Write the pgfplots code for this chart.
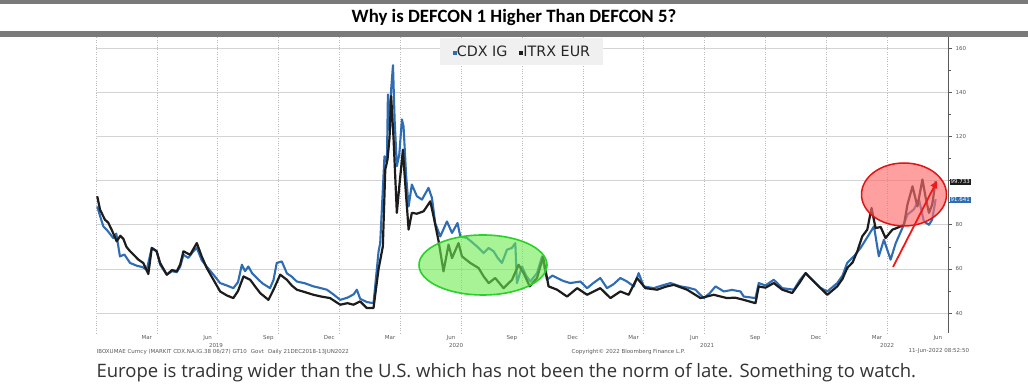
\documentclass[border=0pt]{standalone}
\usepackage{pgfplots}
\pgfplotsset{compat=1.18}
\usepackage{fontspec}
\setmainfont{DejaVu Sans}
\newfontfamily\titlefont{Carlito}
\newfontfamily\capfont{Open Sans}
\usetikzlibrary{arrows.meta}
\definecolor{cdx}{HTML}{2E6DB4}
\definecolor{itrx}{HTML}{1C1C1C}
\definecolor{gridc}{HTML}{D4D4D4}
\definecolor{tickc}{HTML}{5A5A5A}
\definecolor{barc}{HTML}{7A7A7A}
\pgfplotstableread[row sep=\\]{
x y\\
0.06 88.3\\ 0.20 84.0\\ 0.36 79.3\\ 0.55 77.5\\ 0.85 74.0\\ 1.00 76.0\\ 1.18 65.7\\ 1.40 66.5\\ 1.68 62.7\\ 2.00 61.5\\ 2.30 60.8\\ 2.50 59.6\\ 2.75 69.5\\ 2.99 68.0\\
3.16 62.0\\ 3.30 60.0\\ 3.49 57.4\\ 3.75 59.0\\ 3.98 58.5\\ 4.15 61.0\\ 4.31 66.4\\ 4.55 65.0\\ 4.80 68.0\\ 4.97 69.5\\ 5.21 64.0\\ 5.46 61.0\\ 5.79 57.4\\
6.12 53.6\\ 6.45 52.5\\ 6.77 51.3\\ 7.00 54.0\\ 7.19 61.9\\ 7.35 59.0\\ 7.51 61.1\\ 7.70 58.0\\ 7.93 55.9\\ 8.20 53.5\\ 8.58 51.3\\ 8.75 55.0\\ 8.91 62.7\\ 9.16 63.4\\
9.41 58.0\\ 9.65 56.5\\ 9.90 54.3\\ 10.30 53.5\\ 10.72 52.1\\ 11.00 51.5\\ 11.38 50.6\\ 11.70 48.5\\ 12.04 46.0\\ 12.40 47.0\\ 12.70 48.5\\ 12.86 50.6\\ 13.02 46.5\\ 13.35 45.0\\ 13.68 44.5\\
13.93 68.0\\ 14.01 71.7\\ 14.22 111.0\\ 14.34 108.0\\ 14.39 139.0\\ 14.47 123.0\\ 14.55 141.3\\ 14.64 152.2\\
14.72 127.7\\ 14.83 106.5\\ 14.95 111.8\\ 15.08 127.7\\ 15.16 124.6\\ 15.29 102.0\\ 15.41 88.3\\ 15.57 98.2\\
15.82 92.9\\ 16.07 91.4\\ 16.39 96.7\\ 16.56 92.2\\ 16.72 80.8\\ 16.97 74.7\\ 17.30 81.5\\ 17.55 76.3\\
17.82 80.8\\ 17.96 74.7\\ 18.29 74.0\\ 18.55 72.0\\ 18.78 70.2\\ 19.11 67.2\\ 19.35 69.5\\ 19.60 68.0\\ 19.80 65.0\\ 20.01 62.7\\ 20.26 68.7\\
20.50 69.5\\ 20.67 71.7\\ 20.75 53.6\\ 21.00 61.1\\ 21.20 57.0\\ 21.41 54.3\\ 21.74 58.1\\ 21.99 65.7\\ 22.23 55.1\\ 22.50 57.0\\ 22.73 55.9\\
23.05 54.5\\ 23.38 53.6\\ 23.88 54.3\\ 24.21 51.3\\ 24.50 53.5\\ 24.86 55.9\\ 25.19 51.3\\ 25.50 53.0\\ 25.85 55.9\\ 26.18 54.3\\ 26.51 52.1\\
26.75 58.1\\ 27.00 52.1\\ 27.49 51.3\\ 27.90 52.5\\ 28.32 53.6\\ 28.81 52.1\\ 29.20 51.5\\ 29.55 50.6\\ 29.96 46.8\\ 30.25 49.0\\ 30.54 52.1\\
30.95 49.8\\ 31.35 50.5\\ 31.77 49.8\\ 31.93 47.5\\ 32.51 46.8\\ 32.67 53.6\\ 33.00 52.5\\ 33.41 55.1\\ 33.83 51.3\\ 34.40 50.6\\
34.70 55.0\\ 34.98 58.1\\ 35.39 54.3\\ 35.70 51.5\\ 36.05 49.8\\ 36.54 53.6\\ 36.80 57.0\\ 37.03 62.7\\ 37.36 65.7\\ 37.69 69.5\\ 38.10 75.5\\
38.35 79.3\\ 38.59 65.7\\ 38.84 73.2\\ 39.17 64.2\\ 39.42 71.6\\ 39.75 78.5\\ 40.00 84.6\\ 40.32 87.0\\
40.57 91.4\\ 40.81 81.5\\ 41.06 80.0\\ 41.22 82.3\\ 41.39 91.6\\
}\cdxdata
\pgfplotstableread[row sep=\\]{
x y\\
0.06 92.9\\ 0.20 86.8\\ 0.44 82.3\\ 0.60 81.0\\ 0.77 77.8\\ 1.02 72.5\\ 1.20 75.0\\ 1.35 73.6\\ 1.50 70.0\\ 1.68 68.0\\ 1.90 66.0\\ 2.09 64.2\\
2.33 62.7\\ 2.58 57.7\\ 2.75 69.5\\ 2.99 68.0\\ 3.16 62.7\\ 3.49 57.4\\ 3.75 59.5\\ 3.98 58.9\\ 4.15 62.0\\ 4.31 68.0\\
4.64 66.4\\ 4.80 69.0\\ 4.97 71.7\\ 5.21 65.7\\ 5.46 60.4\\ 5.79 55.1\\ 6.12 49.8\\ 6.45 48.0\\ 6.77 46.8\\ 7.00 50.0\\ 7.27 56.6\\
7.60 55.1\\ 7.85 52.0\\ 8.09 49.1\\ 8.50 46.0\\ 8.75 50.6\\ 9.08 57.4\\ 9.41 55.1\\ 9.65 52.5\\ 9.90 50.6\\ 10.30 49.5\\ 10.72 48.3\\
11.10 47.5\\ 11.54 46.8\\ 12.04 43.8\\ 12.40 44.5\\ 12.69 43.8\\ 13.02 45.3\\ 13.35 42.3\\ 13.68 42.3\\ 13.93 60.0\\ 14.14 70.2\\
14.26 105.0\\ 14.37 109.5\\ 14.47 119.4\\ 14.55 138.2\\ 14.67 118.6\\ 14.83 85.4\\ 14.96 98.2\\ 15.13 114.0\\
15.24 99.0\\ 15.41 77.8\\ 15.57 85.4\\ 15.82 85.0\\ 16.15 86.1\\ 16.48 90.6\\ 16.64 83.8\\ 16.89 72.5\\
17.13 58.9\\ 17.38 71.0\\ 17.55 64.9\\ 17.87 71.7\\ 18.04 65.7\\ 18.45 62.7\\ 18.86 60.4\\ 19.11 56.6\\
19.36 53.6\\ 19.68 55.9\\ 20.09 51.3\\ 20.51 55.1\\ 20.83 61.9\\ 21.08 58.1\\ 21.38 52.1\\ 21.74 55.9\\
22.04 65.4\\ 22.31 52.1\\ 22.73 50.6\\ 23.22 47.5\\ 23.72 51.3\\ 24.21 48.3\\ 24.86 51.3\\ 25.36 46.8\\
25.85 49.8\\ 26.26 48.3\\ 26.67 55.9\\ 27.08 51.3\\ 27.66 50.6\\ 28.10 52.0\\ 28.48 52.8\\ 29.14 50.6\\ 29.80 46.8\\
30.45 48.3\\ 31.11 46.8\\ 31.50 47.0\\ 31.93 46.0\\ 32.51 44.5\\ 32.67 52.1\\ 33.00 51.5\\ 33.41 53.6\\ 33.83 50.6\\ 34.32 49.1\\
34.70 54.0\\ 34.98 58.1\\ 35.55 52.8\\ 36.05 48.3\\ 36.54 52.1\\ 36.80 55.5\\ 37.03 60.4\\ 37.30 63.0\\ 37.53 68.0\\ 37.77 74.7\\ 38.02 77.8\\
38.23 87.6\\ 38.43 78.5\\ 38.68 79.0\\ 38.92 74.0\\ 39.26 77.8\\ 39.47 78.5\\ 39.83 80.0\\ 40.00 89.1\\
40.25 97.4\\ 40.49 88.3\\ 40.74 100.5\\ 40.90 92.2\\ 41.06 85.4\\ 41.22 89.1\\ 41.39 99.7\\
}\itrxdata
\begin{document}
\begin{tikzpicture}[x=1pt,y=1pt]
\path[use as bounding box] (0,0) rectangle (1028,387);
\fill[white] (0,0) rectangle (1028,387);
\fill[barc] (0,383) rectangle (1028,387);
\fill[barc] (0,350) rectangle (1028,356);
\node[font=\titlefont\bfseries\fontsize{18.8}{21}\selectfont] at (514,369.5) {Why is DEFCON 1 Higher Than DEFCON 5?};
\begin{axis}[
  at={(96pt,54pt)}, anchor=south west, scale only axis,
  width=852pt, height=296pt,
  xmin=0, xmax=42, ymin=31, ymax=165,
  axis y line*=right, axis x line*=bottom,
  x axis line style={draw=none},
  y axis line style={draw=tickc, line width=0.8pt},
  /pgf/number format/assume math mode=true,
  ytick={40,60,80,120,140,160}, minor ytick={50,70,...,150},
  tick align=outside, major tick length=4pt, minor tick length=3pt,
  y tick style={draw=tickc, line width=0.6pt},
  extra y ticks={100}, extra y tick labels={},
  xtick={2.5,5.5,...,41.5},
  xticklabels={Mar,Jun,Sep,Dec,Mar,Jun,Sep,Dec,Mar,Jun,Sep,Dec,Mar,Jun},
  x tick style={draw=none},
  minor xtick={0,3,...,39},
  ymajorgrids, xminorgrids,
  major grid style={draw=gridc, line width=0.7pt},
  minor grid style={draw=gray!55, dotted, line width=0.7pt},
  tick label style={font=\fontsize{5.5}{6}\selectfont, text=tickc},
  xticklabel style={yshift=2.5pt, inner sep=1pt},
  clip=true,
]
\addplot[cdx, line width=2.1pt, line join=round] table[x=x,y=y] {\cdxdata};
\addplot[itrx, line width=2.2pt, line join=round] table[x=x,y=y] {\itrxdata};
\end{axis}
% legend
\fill[gray!12] (440,322) rectangle (603,349);
\node[font=\fontsize{14.3}{16}\selectfont, text=black!85] at (521.5,335.5)
  {\textcolor{cdx}{\rule[2pt]{4pt}{4pt}}CDX IG\hspace{12pt}\textcolor{itrx}{\rule[2pt]{4pt}{4pt}}ITRX EUR};
% year labels
\begin{scope}[every node/.style={font=\fontsize{5.5}{6}\selectfont, text=tickc, inner sep=0.5pt}]
\node at (216,41.5) {2019};
\node at (456,41.5) {2020};
\node at (707,41.5) {2021};
\node at (887,41.5) {2022};
\node[anchor=west] at (96,35.5) {IBOXUMAE Curncy (MARKIT CDX.NA.IG.38 06/27) GT10\hspace{4pt}Govt\hspace{4pt}Daily 21DEC2018-13JUN2022};
\node[anchor=west] at (571,35.5) {Copyright\textcopyright{} 2022 Bloomberg Finance L.P.};
\node[anchor=west] at (908,35.5) {11-Jun-2022 08:52:50};
\end{scope}
% value labels
\node[fill=itrx, text=white, font=\fontsize{5.5}{6}\selectfont, inner sep=0.8pt, anchor=west] at (949.5,205.3) {99.733};
\node[fill=cdx, text=white, font=\fontsize{5.5}{6}\selectfont, inner sep=0.8pt, anchor=west] at (949.5,187.3) {91.641};
% annotations
\fill[fill={rgb,255:red,110;green,235;blue,80}, fill opacity=0.6] (483,122) ellipse [x radius=64pt, y radius=30pt];
\draw[draw={rgb,255:red,40;green,210;blue,40}, line width=1.6pt] (483,122) ellipse [x radius=64pt, y radius=30pt];
\fill[fill={rgb,255:red,255;green,110;blue,110}, fill opacity=0.65] (904,192.5) ellipse [x radius=42.5pt, y radius=31.5pt];
\draw[draw={rgb,255:red,225;green,20;blue,20}, line width=1.5pt] (904,192.5) ellipse [x radius=42.5pt, y radius=31.5pt];
\draw[draw={rgb,255:red,240;green,25;blue,25}, line width=1.8pt, -{Triangle[length=7pt,width=7pt]}] (893,120) -- (937,206);
% caption
\node[anchor=west, font=\capfont\fontsize{18.5}{20}\selectfont, text=black!80] at (93,14) {Europe is trading wider than the U.S. which has not been the norm of late. Something to watch.};
\end{tikzpicture}
\end{document}
